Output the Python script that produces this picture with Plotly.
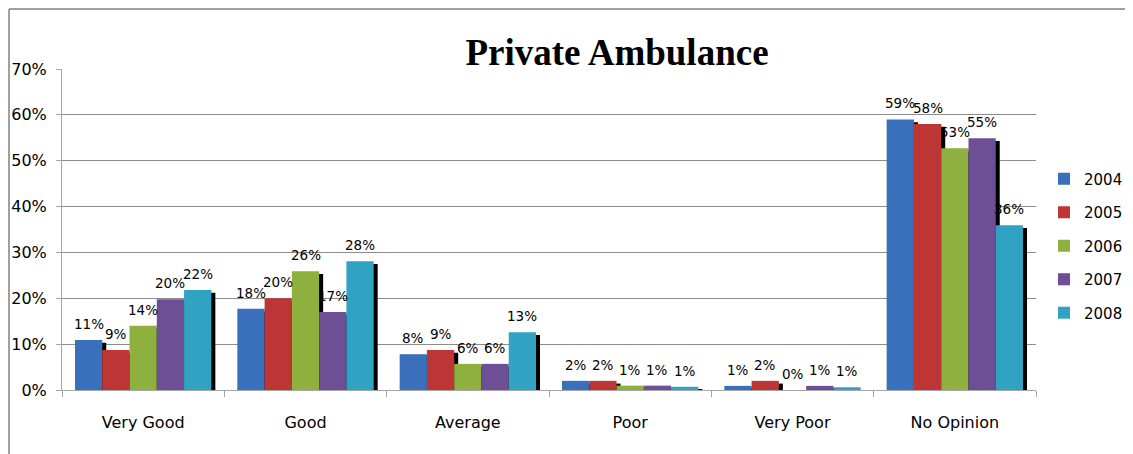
import plotly.graph_objects as go

categories = ["Very Good", "Good", "Average", "Poor", "Very Poor", "No Opinion"]
years = ["2004", "2005", "2006", "2007", "2008"]

v2004 = [10.9, 17.7, 7.8, 2.0, 0.9, 59.0]
v2005 = [8.7, 20.0, 8.7, 2.0, 2.0, 58.0]
v2006 = [14.0, 25.9, 5.7, 0.95, 0.0, 52.7]
v2007 = [19.8, 17.0, 5.7, 0.95, 0.9, 54.9]
v2008 = [21.8, 28.1, 12.6, 0.7, 0.6, 35.9]

series = [v2004, v2005, v2006, v2007, v2008]
colors = ["#3a6fbb", "#bd3535", "#8db03f", "#6e4f96", "#31a3c2"]

# the page body has an 8px margin: the figure starts at screen (8, 8);
# screen pixel positions are converted with PAD
PAD = 8
W, H = 1133 - PAD, 454 - PAD
L, R, T, B = 62 - PAD, 1036 - PAD, 69 - PAD, 390 - PAD
cat_px = (R - L) / len(categories)

bar_w = 0.168
start = -0.42
shadow_dx = 4 / cat_px
shadow_dy = 0.6

fig = go.Figure()

# drop shadows first, so the coloured bars sit on top
for i, vals in enumerate(series):
    fig.add_trace(go.Bar(
        x=categories, y=[max(v - shadow_dy, 0) for v in vals],
        width=bar_w, offset=start + i * bar_w + shadow_dx,
        marker=dict(color="black", line=dict(width=0)),
        showlegend=False, hoverinfo="skip",
    ))

annotations = []
for i, (yr, vals) in enumerate(zip(years, series)):
    fig.add_trace(go.Bar(
        x=categories, y=vals, name=yr, legendgroup=yr,
        width=bar_w, offset=start + i * bar_w,
        marker=dict(color=colors[i], line=dict(width=0)),
    ))
    # data labels sit a little above each bar, like the Excel original
    for cat, v in zip(categories, vals):
        annotations.append(dict(
            x=cat, y=v, xref="x", yref="y", text=f"{v:.0f}%", showarrow=False,
            xanchor="center", yanchor="bottom", yshift=6,
            xshift=(start + (i + 0.5) * bar_w) * cat_px,
            font=dict(family="DejaVu Sans", size=13.5, color="black"),
        ))

px_x = lambda p: (p - PAD - L) / (R - L)
px_y = lambda p: (B - (p - PAD)) / (B - T)

fig.update_layout(
    width=W, height=H,
    margin=dict(l=L, r=W - R, t=T, b=H - B, autoexpand=False),
    barmode="overlay",
    plot_bgcolor="white", paper_bgcolor="white",
    font=dict(family="DejaVu Sans", size=16, color="black"),
    title=dict(text="<b>Private Ambulance</b>", xref="container", x=(617 - PAD) / W,
               xanchor="center", yref="container", y=1 - (52 - PAD) / H, yanchor="middle",
               font=dict(family="Liberation Serif", size=37, color="black")),
    legend=dict(x=px_x(1044), xanchor="left", y=px_y(246), yanchor="middle",
                tracegroupgap=11, traceorder="grouped",
                font=dict(family="DejaVu Sans", size=15)),
    xaxis=dict(type="category", range=[-0.5, 5.5], showgrid=False,
               showline=True, linecolor="#a6a6a6", linewidth=1,
               ticks="outside", tickson="boundaries", ticklen=6, tickcolor="#a6a6a6",
               ticklabelstandoff=18, tickfont=dict(size=16)),
    yaxis=dict(range=[0, 70], dtick=10, ticksuffix="%",
               showgrid=True, gridcolor="#8c8c8c", gridwidth=1,
               showline=True, linecolor="#a6a6a6", linewidth=1,
               ticks="outside", ticklen=5, tickcolor="#a6a6a6",
               ticklabelstandoff=6, tickfont=dict(size=16), zeroline=False),
    annotations=annotations,
    shapes=[
        dict(type="line", xref="paper", yref="paper", x0=px_x(9), x1=px_x(1131),
             y0=px_y(9), y1=px_y(9), line=dict(color="#a0a0a0", width=2)),
        dict(type="line", xref="paper", yref="paper", x0=px_x(9), x1=px_x(9),
             y0=px_y(9), y1=px_y(470), line=dict(color="#a0a0a0", width=2)),
    ],
)

fig.write_html("out.html")
